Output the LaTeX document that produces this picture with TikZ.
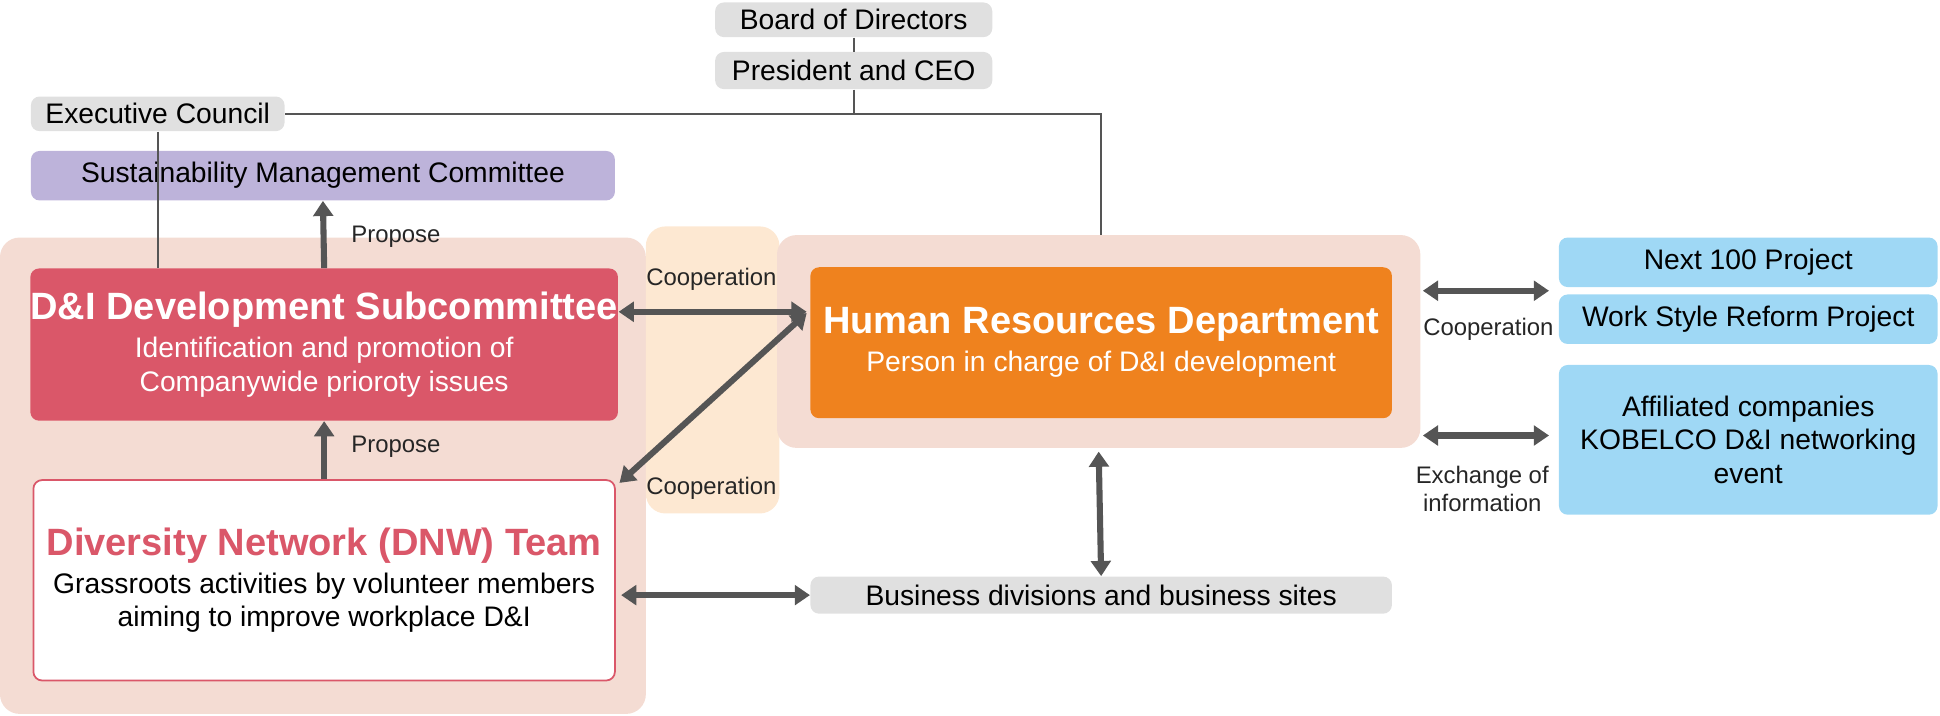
\documentclass[tikz,border=0pt]{standalone}
\usepackage{fontspec}
\setmainfont{Liberation Sans}
\usetikzlibrary{arrows.meta,positioning}
\definecolor{greybox}{HTML}{E0E0E0}
\definecolor{purplebox}{HTML}{BDB3DA}
\definecolor{pinkbg}{HTML}{F4DCD3}
\definecolor{peachbg}{HTML}{FDE8D2}
\definecolor{redbox}{HTML}{DA5769}
\definecolor{orangebox}{HTML}{EF821E}
\definecolor{bluebox}{HTML}{9FD8F5}
\definecolor{arrowgrey}{HTML}{555555}
\newcommand\px[1]{#1*0.02cm}
\newcommand\normtext{\fontsize{13}{15.5}\selectfont}
\newcommand\titletext{\fontsize{17.5}{21}\selectfont\bfseries}
\begin{document}
\begin{tikzpicture}[x=0.02cm,y=-0.02cm,
        box/.style={rounded corners=4pt,inner sep=0pt,align=center,font=\normtext},
        bgpanel/.style={rounded corners=9pt,inner sep=0pt},
        thinline/.style={draw=arrowgrey,line width=1.1pt},
        biarrow/.style={draw=arrowgrey,line width=2.8pt,{Triangle[length=7pt,width=9pt]}-{Triangle[length=7pt,width=9pt]}},
        uparrow/.style={draw=arrowgrey,line width=2.8pt,-{Triangle[length=7pt,width=9pt]}},
        lbl/.style={font=\fontsize{11}{13}\selectfont,align=center,text=black!85}]
\useasboundingbox (0,0) rectangle (1568,578);
% background panels
\node[bgpanel,fill=pinkbg,minimum width=\px{522},minimum height=\px{385}] (leftbg) at (261,384.5) {};
\node[bgpanel,fill=peachbg,minimum width=\px{108},minimum height=\px{232}] (coopbg) at (576,299) {};
\node[bgpanel,fill=pinkbg,minimum width=\px{520},minimum height=\px{172}] (hrbg) at (888,276) {};
% top of the organisation
\node[box,fill=greybox,minimum width=\px{224},minimum height=\px{28}] (board) at (690,16) {Board of Directors};
\node[box,fill=greybox,minimum width=\px{224},minimum height=\px{30}] (pres) at (690,57) {President and CEO};
\node[box,fill=greybox,minimum width=\px{205},minimum height=\px{28}] (exec) at (127.5,92) {Executive Council};
\node[box,fill=purplebox,minimum width=\px{472},minimum height=\px{40}] (smc) at (261,142) {Sustainability Management Committee};
% main boxes
\node[box,fill=redbox,text=white,minimum width=\px{470},minimum height=\px{123}] (dni) at (262,278.5)
    {{\titletext D\&I Development Subcommittee}\\[2pt]Identification and promotion of\\Companywide prioroty issues};
\node[box,fill=white,draw=redbox,line width=0.8pt,minimum width=\px{470},minimum height=\px{162}] (dnw) at (262,469)
    {{\titletext\color{redbox}Diversity Network (DNW) Team}\\[2pt]Grassroots activities by volunteer members\\aiming to improve workplace D\&I};
\node[box,fill=orangebox,text=white,minimum width=\px{470},minimum height=\px{122}] (hr) at (890,277)
    {{\titletext Human Resources Department}\\[2pt]Person in charge of D\&I development};
\node[box,fill=greybox,minimum width=\px{470},minimum height=\px{30}] (biz) at (890,481) {Business divisions and business sites};
% right column
\node[box,fill=bluebox,minimum width=\px{306},minimum height=\px{40}] (next) at (1413,212) {Next 100 Project};
\node[box,fill=bluebox,minimum width=\px{306},minimum height=\px{40}] (work) at (1413,258) {Work Style Reform Project};
\node[box,fill=bluebox,minimum width=\px{306},minimum height=\px{121}] (aff) at (1413,355.5)
    {Affiliated companies\\KOBELCO D\&I networking\\event};
% reporting lines
\draw[thinline] (board.south) -- (pres.north);
\draw[thinline] (exec.south) -- (smc.south -| exec.south) ;
\draw[thinline] (smc.south -| exec.south) -- (dni.north -| exec.south);
\draw[thinline] (exec.east) -- (890,92) -- (890,190);
\draw[thinline] (pres.south) -- (690,92);
% arrows
\draw[uparrow] (dni.north) -- (smc.south);
\node[lbl] (prop1) at (320,191) {Propose};
\draw[uparrow] (dnw.north) -- (dni.south);
\node[lbl] (prop2) at (320,361) {Propose};
\draw[biarrow] (500,252) -- (652,252);
\node[lbl] (coop1) at (575,226) {Cooperation};
\draw[biarrow] (dnw.north east) ++(3,3) -- (652,253);
\node[lbl] (coop2) at (575,395) {Cooperation};
\draw[biarrow] (502,481) -- (biz.west);
\draw[biarrow] (888,365) -- (biz.north);
\draw[biarrow] (1150,235) -- (1252,235);
\node[lbl] (coop3) at (1203,266) {Cooperation};
\draw[biarrow] (1150,352) -- (1252,352);
\node[lbl] (exch) at (1198,395) {Exchange of\\information};
\end{tikzpicture}
\end{document}
